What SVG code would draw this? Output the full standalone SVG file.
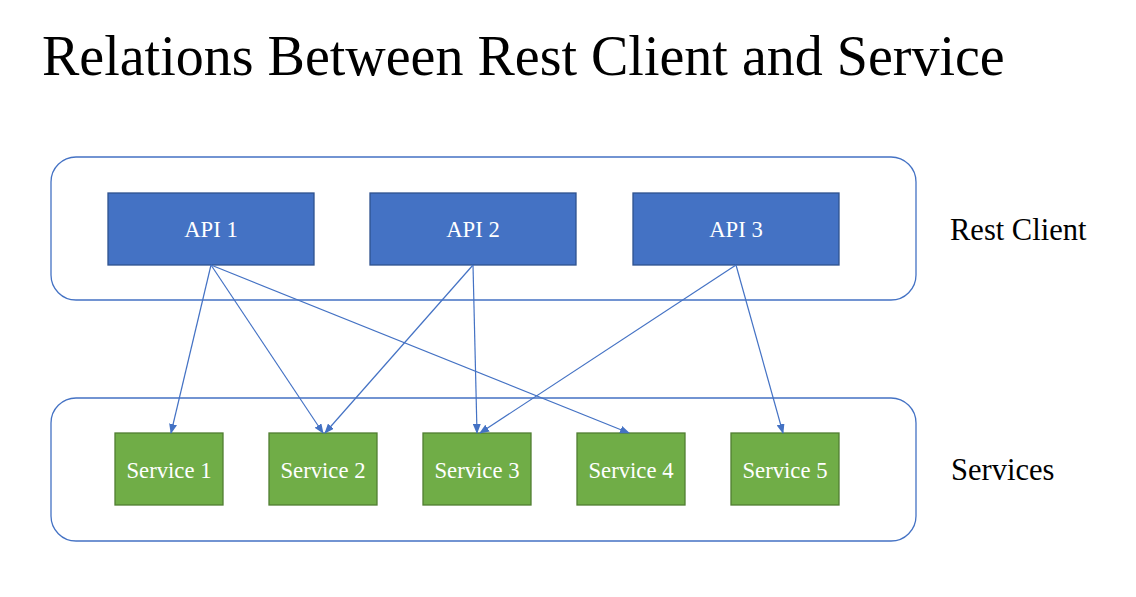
<svg xmlns="http://www.w3.org/2000/svg" width="1136" height="597" viewBox="0 0 1136 597">
<style>
.title{font-family:"Liberation Serif","Times New Roman",serif;font-size:56px;fill:#000}
.side{font-family:"Liberation Serif","Times New Roman",serif;font-size:30.5px;fill:#000}
.container{fill:#fff;stroke:#4472C4;stroke-width:1.3}
.api rect{fill:#4472C4;stroke:#2F528F;stroke-width:1.3}
.svc rect{fill:#70AD47;stroke:#507E32;stroke-width:1.3}
.lbl{font-family:"Liberation Serif","Times New Roman",serif;font-size:22.7px;fill:#fff;text-anchor:middle}
.conn line{stroke:#4472C4;stroke-width:1.2;marker-end:url(#arr)}
</style>
<defs>
<marker id="arr" markerWidth="10" markerHeight="8" refX="9" refY="4" orient="auto" markerUnits="userSpaceOnUse">
<path d="M0,0 L10,4 L0,8 Z" fill="#4472C4"/>
</marker>
</defs>
<rect width="1136" height="597" fill="#fff"/>
<text class="title" x="42" y="75">Relations Between Rest Client and Service</text>
<g id="rest-client">
<rect class="container" x="51" y="157" width="865" height="143" rx="25"/>
<text class="side" x="950" y="240">Rest Client</text>
</g>
<g id="services">
<rect class="container" x="51" y="398" width="865" height="143" rx="25"/>
<text class="side" x="951" y="480">Services</text>
</g>
<g id="api1" class="api"><rect x="108" y="193" width="206" height="72"/><text class="lbl" x="211" y="237">API 1</text></g>
<g id="api2" class="api"><rect x="370" y="193" width="206" height="72"/><text class="lbl" x="473" y="237">API 2</text></g>
<g id="api3" class="api"><rect x="633" y="193" width="206" height="72"/><text class="lbl" x="736" y="237">API 3</text></g>
<g id="svc1" class="svc"><rect x="115" y="433" width="108" height="72"/><text class="lbl" x="169" y="478">Service 1</text></g>
<g id="svc2" class="svc"><rect x="269" y="433" width="108" height="72"/><text class="lbl" x="323" y="478">Service 2</text></g>
<g id="svc3" class="svc"><rect x="423" y="433" width="108" height="72"/><text class="lbl" x="477" y="478">Service 3</text></g>
<g id="svc4" class="svc"><rect x="577" y="433" width="108" height="72"/><text class="lbl" x="631" y="478">Service 4</text></g>
<g id="svc5" class="svc"><rect x="731" y="433" width="108" height="72"/><text class="lbl" x="785" y="478">Service 5</text></g>
<g id="connectors" class="conn">
<line x1="211" y1="265" x2="171" y2="433"/>
<line x1="211" y1="265" x2="323" y2="433"/>
<line x1="211" y1="265" x2="629" y2="433"/>
<line x1="473" y1="265" x2="325" y2="433"/>
<line x1="473" y1="265" x2="477" y2="433"/>
<line x1="736" y1="265" x2="480" y2="433"/>
<line x1="736" y1="265" x2="783" y2="433"/>
</g>
</svg>
